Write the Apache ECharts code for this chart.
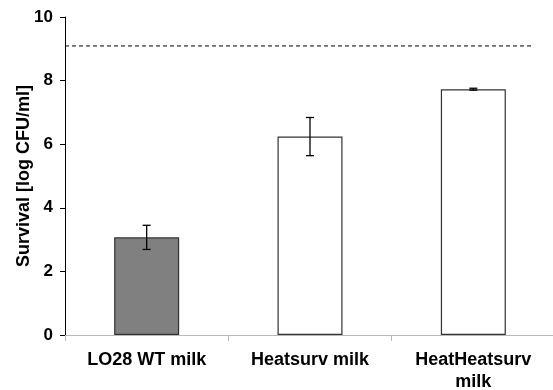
<!DOCTYPE html>
<html><head><meta charset="utf-8">
<script src="https://cdn.jsdelivr.net/npm/echarts@6/dist/echarts.min.js"></script>
<style>html,body{margin:0;padding:0;background:#fff}#c{width:553px;height:390px}</style>
</head><body><div id="c"></div>
<script>
var categories = ['LO28 WT milk', 'Heatsurv milk', 'HeatHeatsurv\nmilk'];
var survival = [3.07, 6.24, 7.73];
var errors = [0.38, 0.6, 0.03];
var reference = 9.09;
var yTicks = [0, 2, 4, 6, 8, 10];

var chart = echarts.init(document.getElementById('c'));
var font = 'Arial, "Liberation Sans", sans-serif';
chart.setOption({
  animation: false,
  grid: {left: 65, top: 17, bottom: 55, width: 490, containLabel: false, outerBoundsMode: 'none'},
  xAxis: [{
    type: 'category', data: categories,
    axisLine: {lineStyle: {color: '#b8b8b8', width: 1}},
    axisTick: {show: true, length: 6, lineStyle: {color: '#b8b8b8'}},
    axisLabel: {color: '#000', fontWeight: 'bold', fontSize: 18, fontFamily: font, margin: 14, lineHeight: 22}
  }, {
    type: 'value', min: 0, max: 3, show: false
  }],
  yAxis: {
    type: 'value', min: 0, max: 10, interval: 2,
    name: 'Survival [log CFU/ml]', nameLocation: 'middle', nameGap: 32, nameMoveOverlap: false,
    nameTextStyle: {color: '#000', fontWeight: 'bold', fontSize: 18, fontFamily: font},
    axisLine: {show: true, lineStyle: {color: '#000', width: 1}},
    axisTick: {show: true, length: 5, lineStyle: {color: '#000'}},
    axisLabel: {color: '#000', fontWeight: 'bold', fontSize: 17, fontFamily: font, margin: 12},
    splitLine: {show: false}
  },
  series: [{
    type: 'bar', data: survival.map(function (v, i) {
      return {value: v, itemStyle: {color: i === 0 ? '#808080' : '#fff'}};
    }),
    barWidth: 65,
    itemStyle: {borderColor: '#333', borderWidth: 1.2}
  }, {
    type: 'custom',
    data: survival.map(function (v, i) { return [i, v - errors[i], v + errors[i]]; }),
    renderItem: function (params, api) {
      var lo = api.coord([api.value(0), api.value(1)]);
      var hi = api.coord([api.value(0), api.value(2)]);
      var w = 4;
      var st = {stroke: '#000', lineWidth: 1.3};
      return {type: 'group', children: [
        {type: 'line', shape: {x1: hi[0], y1: hi[1], x2: lo[0], y2: lo[1]}, style: st},
        {type: 'line', shape: {x1: hi[0] - w, y1: hi[1], x2: hi[0] + w, y2: hi[1]}, style: st},
        {type: 'line', shape: {x1: lo[0] - w, y1: lo[1], x2: lo[0] + w, y2: lo[1]}, style: st}
      ]};
    },
    z: 5
  }, {
    type: 'line', xAxisIndex: 1, symbol: 'none',
    data: [[0, reference], [2.86, reference]],
    lineStyle: {color: '#000', width: 1, type: [4, 3]}
  }]
});
</script></body></html>
